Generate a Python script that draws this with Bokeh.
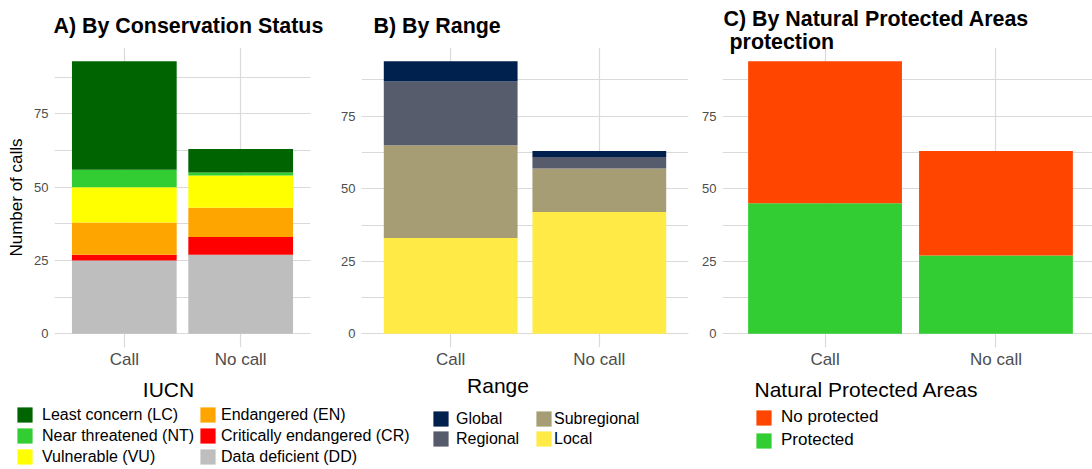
from bokeh.plotting import figure
from bokeh.layouts import row, column
from bokeh.models import (Range1d, FixedTicker, SingleIntervalTicker, Label, Title,
                          Legend, LegendItem, ColumnDataSource)
from bokeh.core.properties import value
from bokeh.embed import file_html
from bokeh.resources import INLINE

# ---------------- data ----------------
categories = ["Call", "No call"]

iucn_levels = ["Least concern (LC)", "Near threatened (NT)", "Vulnerable (VU)",
               "Endangered (EN)", "Critically endangered (CR)", "Data deficient (DD)"]
iucn_colors = ["#006400", "#32CD32", "#FFFF00", "#FFA500", "#FF0000", "#BEBEBE"]
iucn_call = [37, 6, 12, 11, 2, 25]
iucn_nocall = [8, 1, 11, 10, 6, 27]

range_levels = ["Global", "Regional", "Subregional", "Local"]
range_colors = ["#00204D", "#575C6D", "#A69D75", "#FFEA46"]
range_call = [7, 22, 32, 33]
range_nocall = [2, 4, 15, 42]

npa_levels = ["No protected", "Protected"]
npa_colors = ["#FF4500", "#32CD32"]
npa_call = [49, 45]
npa_nocall = [36, 27]

titles = ["A) By Conservation Status", "B) By Range",
          "C) By Natural Protected Areas", "protection"]
legend_titles = ["IUCN", "Range", "Natural Protected Areas"]
y_title = "Number of calls"

# ---------------- layout constants (page pixels) ----------------
FONT = "Liberation Sans"
FRAME_TOP = 47
FRAME_BOTTOM = 347
PLOT_H = 372
LEG_H = 469 - PLOT_H
GRID = "#DADADA"


def make_fig(width, left, right, ymax, xend):
    pad = 0.05 * ymax
    p = figure(width=width, height=PLOT_H,
               min_border_left=left, min_border_right=right,
               min_border_top=FRAME_TOP,
               min_border_bottom=PLOT_H - FRAME_BOTTOM,
               x_range=Range1d(0.4, xend), y_range=Range1d(-pad, ymax + pad),
               output_backend="svg", toolbar_location=None, tools="")
    p.outline_line_color = None
    p.background_fill_color = "white"
    p.border_fill_color = "white"
    xt = FixedTicker(ticks=[i + 1 for i in range(len(categories))])
    p.xaxis.ticker = xt
    p.xgrid.ticker = xt
    p.xaxis.major_label_overrides = {i + 1: c for i, c in enumerate(categories)}
    yt = SingleIntervalTicker(interval=25, num_minor_ticks=2)
    p.yaxis.ticker = yt
    p.ygrid.ticker = yt
    for ax in (p.xaxis, p.yaxis):
        ax.axis_line_color = None
        ax.major_tick_line_color = None
        ax.minor_tick_line_color = None
        ax.major_tick_out = 0
        ax.minor_tick_out = 0
        ax.major_label_text_font = FONT
        ax.major_label_text_color = "#4D4D4D"
    p.xaxis.major_label_text_font_size = "17px"
    p.xaxis.major_label_standoff = 2
    p.yaxis.major_label_text_font_size = "13px"
    p.yaxis.major_label_standoff = 6
    p.xgrid.grid_line_color = GRID
    p.xgrid.grid_line_width = 1.2
    p.ygrid.grid_line_color = GRID
    p.ygrid.grid_line_width = 1.2
    p.ygrid.minor_grid_line_color = GRID
    p.ygrid.minor_grid_line_width = 1.0
    return p


def add_title(p, text, offset, standoff):
    p.add_layout(Title(text=text, align="left", offset=offset, standoff=standoff,
                       text_font=FONT, text_font_size="21.4px",
                       text_font_style="bold", text_color="black"), "above")


def stack(p, levels, colors, call, nocall):
    data = {"x": [i + 1 for i in range(len(categories))]}
    for lv, a, b in zip(levels, call, nocall):
        data[lv] = [a, b]
    src = ColumnDataSource(data)
    order = list(reversed(levels))  # bottom first
    cmap = dict(zip(levels, colors))
    p.vbar_stack(order, x="x", width=0.9, source=src,
                 fill_color=[cmap[l] for l in order], line_color=None)


def legend_fig(width):
    f = figure(width=width, height=LEG_H, x_range=Range1d(0, 1), y_range=Range1d(0, 1),
               min_border=0, min_border_left=0, min_border_right=0,
               min_border_top=0, min_border_bottom=0,
               x_axis_type=None, y_axis_type=None,
               output_backend="svg", toolbar_location=None, tools="")
    f.outline_line_color = None
    f.grid.visible = False
    f.background_fill_color = "white"
    f.border_fill_color = "white"
    return f


def add_legend(f, names, levels, colors, x, top, gh, spacing, standoff, fsize):
    cmap = dict(zip(levels, colors))
    items = []
    for n in names:
        # zero-height key renderer: only its colour is used by the legend swatch
        r = f.vbar(x=[0], top=[0], bottom=[0], width=0, fill_color=cmap[n], line_color=None)
        items.append(LegendItem(label=value(n), renderers=[r]))
    height = len(names) * gh + (len(names) - 1) * spacing
    bottom = top + height  # page y
    lg = Legend(items=items, location=(x, 469 - bottom), orientation="vertical",
                glyph_width=19, glyph_height=gh, label_height=gh,
                label_standoff=standoff, spacing=spacing, padding=0, margin=0,
                border_line_color=None, background_fill_alpha=0,
                label_text_font=FONT, label_text_font_size=f"{fsize}px",
                label_text_color="black")
    f.add_layout(lg)


def leg_title(f, text, x, baseline, align):
    f.add_layout(Label(x=x, y=469 - baseline, x_units="screen", y_units="screen",
                       text=text, text_font=FONT, text_font_size="21px",
                       text_align=align, text_baseline="alphabetic",
                       text_color="black"))


# ---------------- Panel A (page x 0..325) ----------------
pa = make_fig(325, 54, 15, 93, 2.6)
stack(pa, iucn_levels, iucn_colors, iucn_call, iucn_nocall)
pa.yaxis.axis_label = y_title
pa.yaxis.axis_label_text_font = FONT
pa.yaxis.axis_label_text_font_size = "17px"
pa.yaxis.axis_label_text_font_style = "normal"
pa.yaxis.axis_label_text_color = "black"
pa.yaxis.axis_label_standoff = 5
add_title(pa, titles[0], -1, 20)

# ---------------- Panel B (page x 325..698) ----------------
pb = make_fig(373, 36, 10, 94, 2.6)
stack(pb, range_levels, range_colors, range_call, range_nocall)
add_title(pb, titles[1], 12, 20)

# ---------------- Panel C (page x 698..1092) ----------------
c_frame_w = 1092 - 722
pc = make_fig(394, 24, 0, 94, 0.4 + c_frame_w * 2.2 / 376.0)
stack(pc, npa_levels, npa_colors, npa_call, npa_nocall)
add_title(pc, titles[3], 7, -13)
add_title(pc, titles[2], 1, 8)

# ---------------- legends row ----------------
LA_W, LB_W = 425, 273
la = legend_fig(LA_W)
leg_title(la, legend_titles[0], 168, 389, "center")
add_legend(la, iucn_levels[:3], iucn_levels, iucn_colors, 15, 405, 19, 2, 8, 16)
add_legend(la, iucn_levels[3:], iucn_levels, iucn_colors, 198, 405, 19, 2, 4, 16)

lb = legend_fig(LB_W)
leg_title(lb, legend_titles[1], 497.5 - LA_W, 385, "center")
add_legend(lb, range_levels[:2], range_levels, range_colors, 431 - LA_W, 409, 19, 1, 6, 16)
add_legend(lb, range_levels[2:], range_levels, range_colors, 534 - LA_W, 409, 19, 1, 1, 16)

lc = legend_fig(1092 - LA_W - LB_W)
leg_title(lc, legend_titles[2], 754 - 698, 389, "left")
add_legend(lc, npa_levels, npa_levels, npa_colors, 754 - 698, 409, 19, 3, 8, 17)

layout = column(row(pa, pb, pc, spacing=0), row(la, lb, lc, spacing=0), spacing=0)
open("out.html", "w").write(file_html(layout, INLINE))
